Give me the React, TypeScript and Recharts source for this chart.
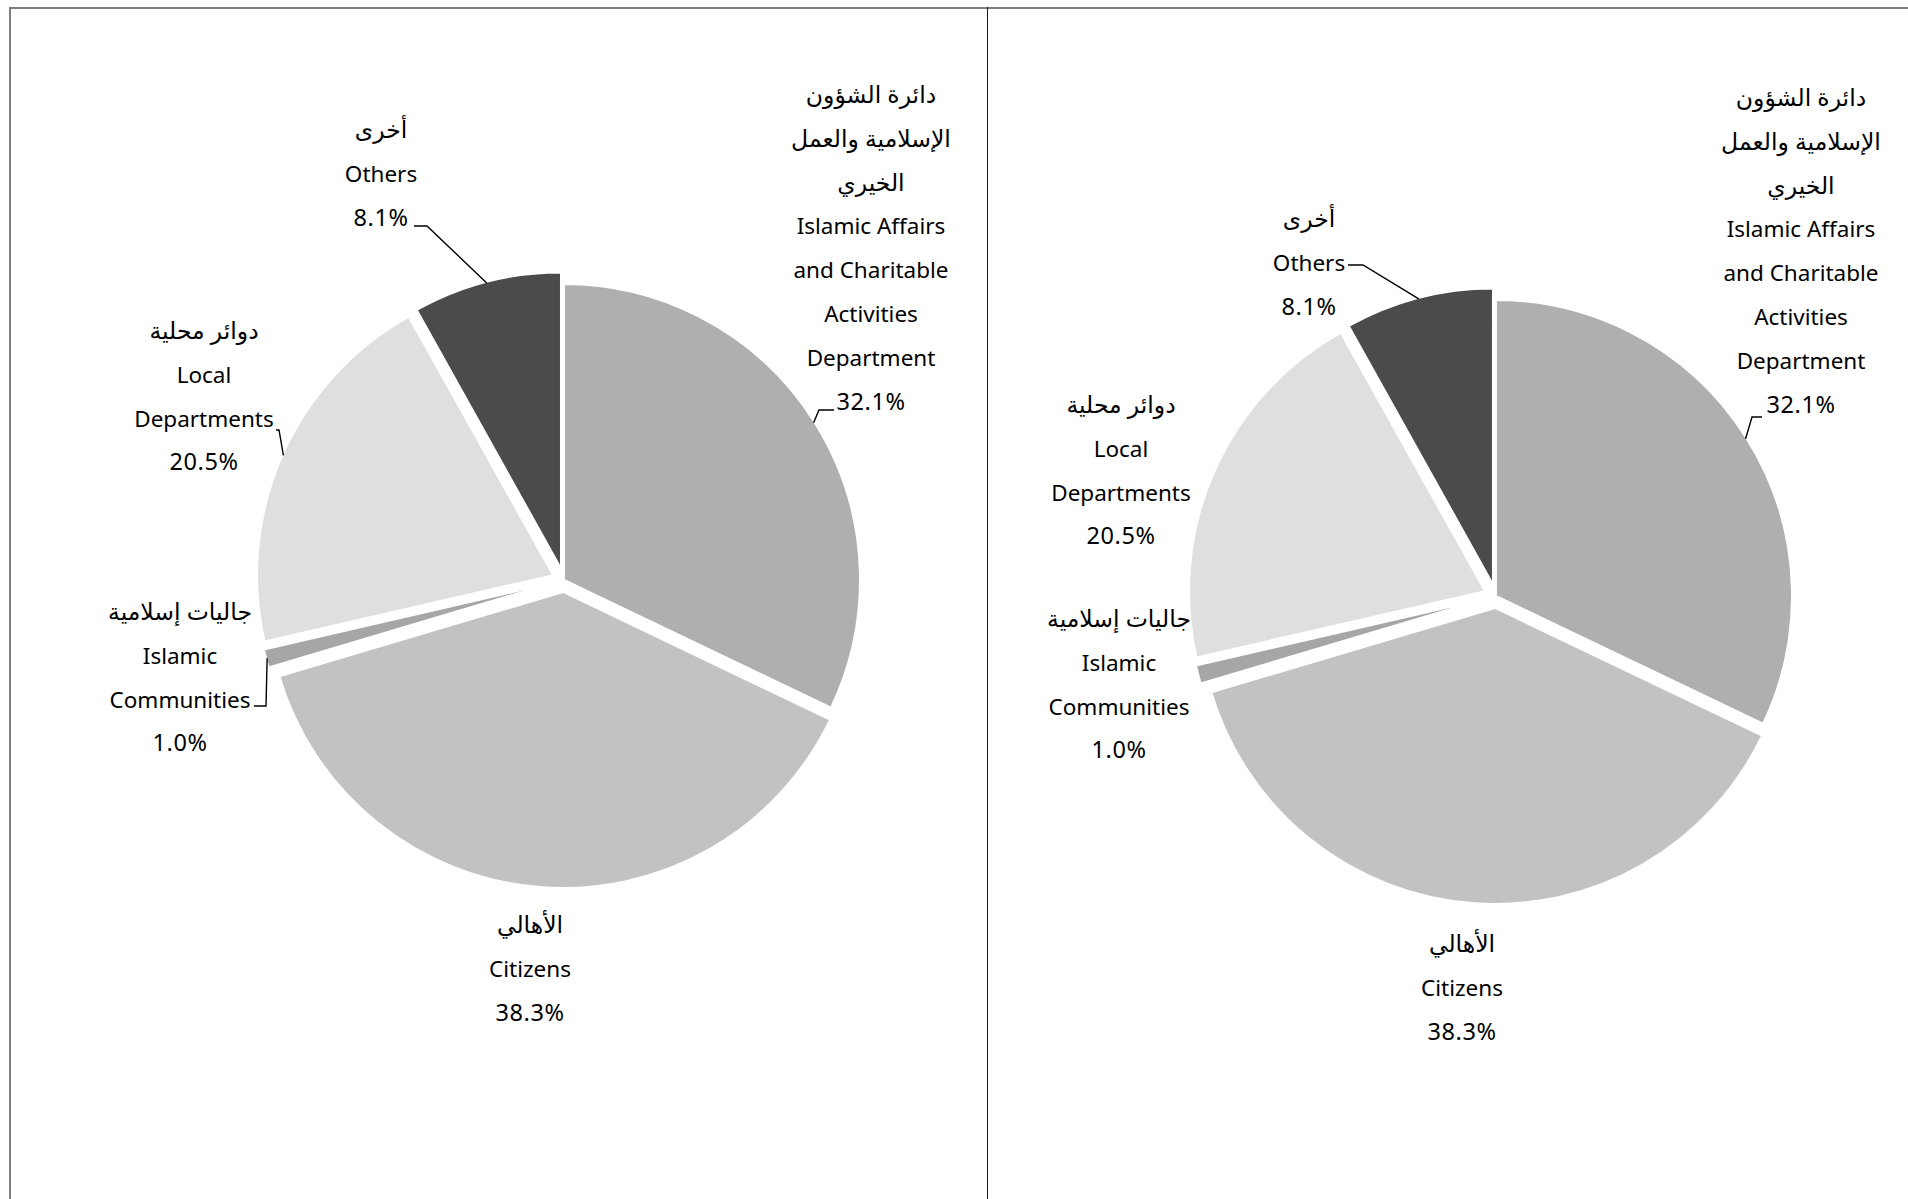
import React from 'react';
import { PieChart, Pie, Cell, Sector } from 'recharts';

// ---- data ----
const categoriesEn = [
  'Islamic Affairs and Charitable Activities Department',
  'Citizens',
  'Islamic Communities',
  'Local Departments',
  'Others',
];
const arabicLines = [
  ['دائرة الشؤون', 'الإسلامية والعمل', 'الخيري'],
  ['الأهالي'],
  ['جاليات إسلامية'],
  ['دوائر محلية'],
  ['أخرى'],
];
const englishLines = [
  ['Islamic Affairs', 'and Charitable', 'Activities', 'Department'],
  ['Citizens'],
  ['Islamic', 'Communities'],
  ['Local', 'Departments'],
  ['Others'],
];
const shares = [32.1, 38.3, 1.0, 20.5, 8.1];
const percentLabels = ['32.1%', '38.3%', '1.0%', '20.5%', '8.1%'];

// ---- styles ----
const fills = ['#afafaf', '#c2c2c2', '#a6a6a6', '#dfdfdf', '#4b4b4b'];
const explode = [0, 12, 12, 12, 12];
const FONT = "'Noto Sans', 'DejaVu Sans', sans-serif";
const EN_SIZE = 22.5;
const AR_SIZE = 23.5;
const PCT_SIZE = 23.5;
const LINE_H = 43.8;
const RADIAN = Math.PI / 180;

type LabelPos = { x: number; y: number; leader?: number[] };
// label text anchors (first baseline) and leader elbows, page coordinates
const leftLabels: LabelPos[] = [
  { x: 871, y: 103, leader: [834, 410, 819, 410] },
  { x: 530, y: 933 },
  { x: 180, y: 620, leader: [254, 706, 266, 706] },
  { x: 204, y: 339, leader: [276, 430, 279, 430] },
  { x: 381, y: 138, leader: [414, 226, 427, 226] },
];
const rightLabels: LabelPos[] = [
  { x: 1801, y: 106, leader: [1762, 417, 1752, 417] },
  { x: 1462, y: 952 },
  { x: 1119, y: 627 },
  { x: 1121, y: 413 },
  { x: 1309, y: 227, leader: [1348, 265, 1363, 265] },
];

const tableData = categoriesEn.map((name, i) => ({ name, value: shares[i], idx: i }));

const ExplodedSector = (props: any) => {
  const { cx, cy, midAngle } = props;
  const i = props.payload?.idx ?? props.index ?? 0;
  const d = explode[i] ?? 0;
  const a = -midAngle * RADIAN;
  return <Sector {...props} cx={cx + d * Math.cos(a)} cy={cy + d * Math.sin(a)} />;
};

const makeLabel = (layout: LabelPos[]) => (props: any) => {
  const { cx, cy, midAngle, outerRadius } = props;
  const i = props.payload?.idx ?? props.index ?? 0;
  const L = layout[i];
  const d = explode[i] ?? 0;
  const a = -midAngle * RADIAN;
  const r = outerRadius - 1 + d;
  const ex = cx + r * Math.cos(a);
  const ey = cy + r * Math.sin(a);
  const lines = [
    ...arabicLines[i].map((t) => ({ t, s: AR_SIZE, ls: 0 })),
    ...englishLines[i].map((t) => ({ t, s: EN_SIZE, ls: 0 })),
    { t: percentLabels[i], s: PCT_SIZE, ls: 0.6 },
  ];
  return (
    <g key={`lbl-${i}`}>
      {L.leader && (
        <polyline
          points={`${L.leader[0]},${L.leader[1]} ${L.leader[2]},${L.leader[3]} ${ex},${ey}`}
          stroke="#000"
          strokeWidth={1.4}
          fill="none"
        />
      )}
      {lines.map((ln, k) => (
        <text
          key={k}
          x={L.x}
          y={L.y + k * LINE_H}
          textAnchor="middle"
          fontFamily={FONT}
          fontSize={ln.s}
          letterSpacing={ln.ls}
          fill="#000"
        >
          {ln.t}
        </text>
      ))}
    </g>
  );
};

const leftLabel = makeLabel(leftLabels);
const rightLabel = makeLabel(rightLabels);

export default function App() {
  return (
    <div
      style={{
        position: 'absolute',
        left: 0,
        top: 0,
        width: 1908,
        height: 1199,
        background: '#fff',
        overflow: 'hidden',
      }}
    >
      <PieChart width={1908} height={1199} margin={{ top: 0, right: 0, bottom: 0, left: 0 }}>
        <Pie
          data={tableData}
          dataKey="value"
          nameKey="name"
          cx={564}
          cy={580}
          outerRadius={296}
          startAngle={90}
          endAngle={-270}
          stroke="#ffffff"
          strokeWidth={2}
          isAnimationActive={false}
          labelLine={false}
          label={leftLabel}
          shape={ExplodedSector}
        >
          {tableData.map((e, i) => (
            <Cell key={i} fill={fills[i]} />
          ))}
        </Pie>
        <Pie
          data={tableData}
          dataKey="value"
          nameKey="name"
          cx={1496}
          cy={596}
          outerRadius={296}
          startAngle={90}
          endAngle={-270}
          stroke="#ffffff"
          strokeWidth={2}
          isAnimationActive={false}
          labelLine={false}
          label={rightLabel}
          shape={ExplodedSector}
        >
          {tableData.map((e, i) => (
            <Cell key={i} fill={fills[i]} />
          ))}
        </Pie>
      </PieChart>
      <div style={{ position: 'absolute', left: 9, top: 7, width: 1899, height: 2, background: '#7f7f7f' }} />
      <div style={{ position: 'absolute', left: 9, top: 7, width: 2, height: 1192, background: '#7f7f7f' }} />
      <div style={{ position: 'absolute', left: 986.5, top: 7, width: 1.3, height: 1192, background: '#1a1a1a' }} />
    </div>
  );
}
